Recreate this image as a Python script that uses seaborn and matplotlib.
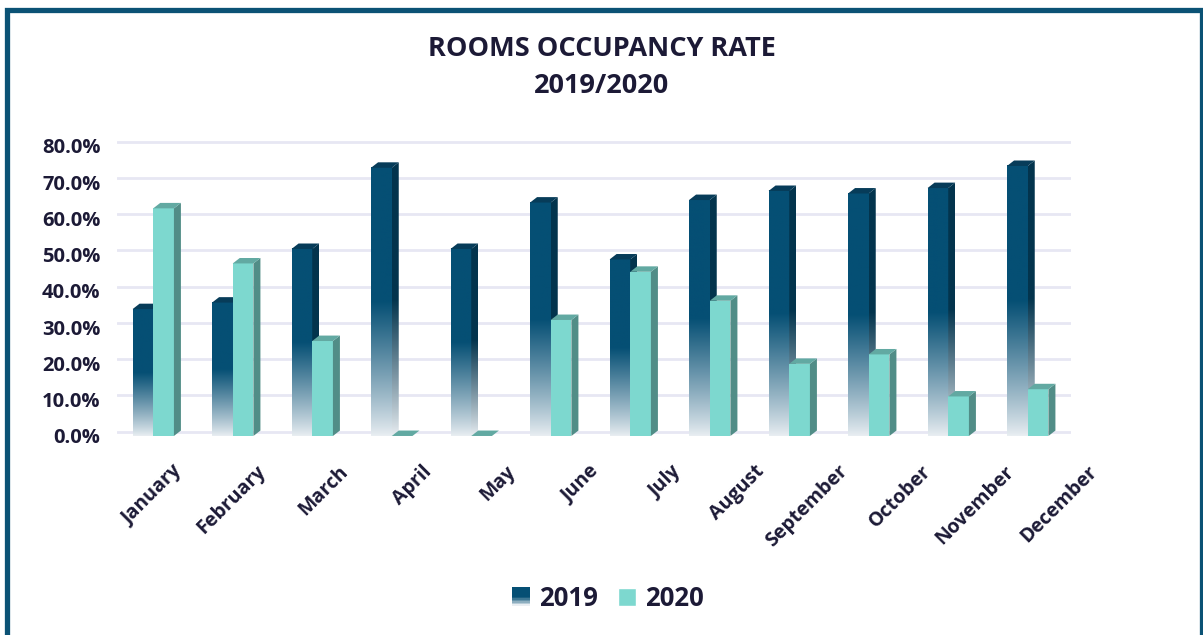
import numpy as np
import pandas as pd
import seaborn as sns
import matplotlib.pyplot as plt
import matplotlib.transforms as mtransforms
from matplotlib.patches import Polygon, Rectangle, Patch
from matplotlib.legend_handler import HandlerPatch
from matplotlib.colors import to_rgb

# data
months = ["January", "February", "March", "April", "May", "June",
          "July", "August", "September", "October", "November", "December"]
rate_2019 = [35.0, 36.8, 51.6, 74.0, 51.6, 64.4, 48.7, 65.1, 67.6, 66.9, 68.4, 74.5]
rate_2020 = [62.8, 47.6, 26.2, 0.0, 0.0, 32.0, 45.3, 37.3, 19.9, 22.5, 10.9, 12.9]
years = ["2019", "2020"]
y_ticks = list(range(0, 81, 10))

df = pd.DataFrame({
    "month": months * 2,
    "rate": rate_2019 + rate_2020,
    "year": [years[0]] * len(months) + [years[1]] * len(months),
})

NAVY = "#054f74"
NAVY_SIDE = "#03344d"
NAVY_TOP = "#073c59"
TEAL = "#7dd8cf"
TEAL_SIDE = "#518d87"
TEAL_TOP = "#62a9a2"
FADE = "#e9eef2"
TXT = "#1c1a36"
GRID = "#e7e7f3"

sns.set_theme(style="white")
plt.rcParams["font.family"] = ["Open Sans", "DejaVu Sans"]

W, H = 1203, 635
fig = plt.figure(figsize=(W / 100, H / 100), dpi=100)
ax = fig.add_axes([117 / W, 1 - 439.6 / H, 954 / W, (439.6 - 138.75) / H])

sns.barplot(data=df, x="month", y="rate", hue="year",
            palette={"2019": NAVY, "2020": TEAL}, width=0.52, dodge=True,
            saturation=1, legend=False, ax=ax, linewidth=0)

# 3D depth in data units
DX, DY = 0.088, 1.5


def fade_arr(top, n=256):
    t = np.linspace(0, 1, n)
    f = np.clip(t / 0.5, 0, 1) ** 0.9
    a, b = np.array(to_rgb(FADE)), np.array(to_rgb(top))
    return (a[None, :] * (1 - f[:, None]) + b[None, :] * f[:, None])[:, None, :]


bars = list(ax.patches)
n = len(months)
for i, p in enumerate(bars):
    x0, w, h = p.get_x(), p.get_width(), p.get_height()
    x1 = x0 + w
    first = i < n
    z = 2 if first else 3
    side = Polygon([(x1, 0), (x1 + DX, DY), (x1 + DX, h + DY), (x1, h)], closed=True,
                   transform=ax.transData, zorder=z, lw=0)
    top = Polygon([(x0, h), (x0 + DX, h + DY), (x1 + DX, h + DY), (x1, h)], closed=True,
                  zorder=z + 0.1, lw=0)
    if first:
        p.set_visible(False)
        ax.imshow(fade_arr(NAVY), extent=(x0, x1, 0, h), origin="lower",
                  aspect="auto", zorder=z, interpolation="bilinear")
        im = ax.imshow(fade_arr(NAVY_SIDE), extent=(x1, x1 + DX, 0, h + DY), origin="lower",
                       aspect="auto", zorder=z, interpolation="bilinear")
        im.set_clip_path(side)
        top.set_facecolor(NAVY_TOP)
    else:
        p.set_zorder(z)
        side.set_facecolor(TEAL_SIDE)
        ax.add_patch(side)
        top.set_facecolor(TEAL_TOP)
    ax.add_patch(top)

ax.set_xlim(-0.5 + DX / 2, len(months) - 0.5 + DX / 2)
ax.set_ylim(-1, 82)

# gridlines on the back wall
for v in y_ticks:
    ax.axhline(v + DY * 0.8, color=GRID, lw=2, zorder=1)

ax.set_yticks(y_ticks)
ax.set_yticklabels([f"{v:.1f}%" for v in y_ticks], fontsize=14.5, fontweight="bold", color=TXT)
# category labels sit on a slightly wider spacing than the bars (perspective)
ax.set_xticks([k * 1.0465 for k in range(len(months))])
ax.set_xticklabels(months, rotation=45, ha="right", va="center", rotation_mode="anchor",
                   fontsize=14, fontweight="bold", color=TXT)
ax.tick_params(axis="y", length=0, pad=12)
ax.tick_params(axis="x", length=0, pad=21)
shift = mtransforms.ScaledTranslation(0.26, 0, fig.dpi_scale_trans)
for lab in ax.get_xticklabels():
    lab.set_transform(lab.get_transform() + shift)
ax.set_xlabel("")
ax.set_ylabel("")
sns.despine(ax=ax, left=True, bottom=True)

fig.text(602 / W, 1 - 49 / H, "ROOMS OCCUPANCY RATE", ha="center", va="center",
         fontsize=19.5, fontweight="bold", color=TXT)
fig.text(602 / W, 1 - 86 / H, "2019/2020", ha="center", va="center",
         fontsize=19.5, fontweight="bold", color=TXT)


class GradientHandler(HandlerPatch):
    def create_artists(self, legend, orig_handle, xdescent, ydescent, width, height, fontsize, trans):
        arts = []
        cols = fade_arr(NAVY, 12)[:, 0, :]
        k = len(cols)
        for j, c in enumerate(cols):
            r = Rectangle((-xdescent, -ydescent + height * j / k), width, height / k + 0.3,
                          facecolor=c, lw=0, transform=trans)
            arts.append(r)
        return arts


h19 = Patch(facecolor=NAVY, label="2019")
h20 = Patch(facecolor=TEAL, label="2020")
leg = fig.legend(handles=[h19, h20], loc="center", bbox_to_anchor=(608 / W, 1 - 598 / H),
                 ncol=2, frameon=False, handlelength=0.7, handleheight=0.7,
                 handletextpad=0.35, columnspacing=0.8,
                 handler_map={h19: GradientHandler()},
                 prop={"size": 18.5, "weight": "bold"})
for t in leg.get_texts():
    t.set_color(TXT)

# border around the chart
fig.add_artist(Rectangle((7 / W, -0.05), (1201.5 - 7) / W, 1.05 - 9.5 / H,
                         transform=fig.transFigure, fill=False, edgecolor="#0b5275", lw=3.8))

fig.savefig("out.png", dpi=100)
